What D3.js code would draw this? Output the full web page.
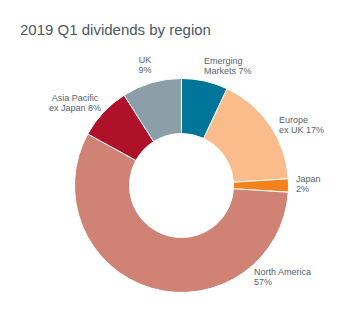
<!DOCTYPE html>
<html>
<head>
<meta charset="utf-8">
<script src="https://cdn.jsdelivr.net/npm/d3@7"></script>
<style>
  body { margin: 0; background: #fff; }
  text { font-family: "Liberation Sans", Arial, sans-serif; }
</style>
</head>
<body>
<script>
// data, clockwise from 12 o'clock
const regions = ["Emerging Markets", "Europe ex UK", "Japan", "North America", "Asia Pacific ex Japan", "UK"];
const shares = [7, 17, 2, 57, 8, 9];
const labelLines = [
  ["Emerging", "Markets 7%"],
  ["Europe", "ex UK 17%"],
  ["Japan", "2%"],
  ["North America", "57%"],
  ["Asia Pacific", "ex Japan 8%"],
  ["UK", "9%"]
];
const sliceColors = ["#00759a", "#f9bc8a", "#f4821f", "#d08275", "#b0112a", "#8c9fa9"];

const width = 354, height = 334;
const cx = 181.5, cy = 185.5, outerR = 107, innerR = 52;

const svg = d3.select("body").append("svg")
  .attr("width", width)
  .attr("height", height);

svg.append("text")
  .attr("x", 20)
  .attr("y", 35)
  .attr("font-size", 15)
  .attr("fill", "#4a5863")
  .text("2019 Q1 dividends by region");

const pie = d3.pie().sort(null).value(d => d);
const arc = d3.arc().innerRadius(innerR).outerRadius(outerR);

const g = svg.append("g").attr("transform", `translate(${cx},${cy})`);

g.selectAll("path")
  .data(pie(shares))
  .enter()
  .append("path")
  .attr("d", arc)
  .attr("fill", (d, i) => sliceColors[i])
  .attr("stroke", "#fff")
  .attr("stroke-width", 1);

// label placement (anchor point + alignment), set by hand around the ring
const labelPos = [
  { x: 204, y: 64, anchor: "start" },
  { x: 279, y: 123, anchor: "start" },
  { x: 296, y: 182, anchor: "start" },
  { x: 254, y: 275, anchor: "start" },
  { x: 75, y: 101, anchor: "middle" },
  { x: 145, y: 63, anchor: "middle" }
];

const labels = svg.append("g").selectAll("text")
  .data(regions)
  .enter()
  .append("text")
  .attr("x", (d, i) => labelPos[i].x)
  .attr("y", (d, i) => labelPos[i].y)
  .attr("text-anchor", (d, i) => labelPos[i].anchor)
  .attr("font-size", 9)
  .attr("fill", "#56636d");

labels.each(function(d, i) {
  const t = d3.select(this);
  labelLines[i].forEach((line, k) => {
    t.append("tspan")
      .attr("x", labelPos[i].x)
      .attr("dy", k === 0 ? 0 : 10)
      .text(line);
  });
});
</script>
</body>
</html>
